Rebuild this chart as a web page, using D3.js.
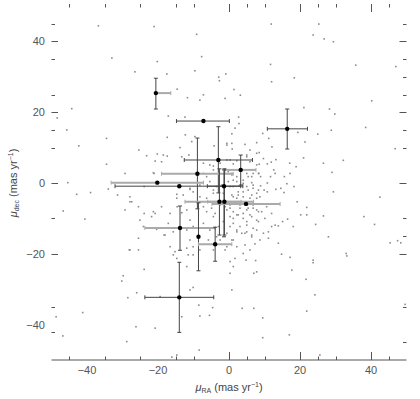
<!DOCTYPE html>
<html><head><meta charset="utf-8">
<script src="https://cdn.jsdelivr.net/npm/d3@7"></script>
<style>body{margin:0;background:#fff}svg{display:block}</style>
</head><body>
<script>
// ---- data ----
const xTickLabels = [-40, -20, 0, 20, 40];
const yTickLabels = [40, 20, 0, -20, -40];
const xMajorTicks = [0, 20, 40];
const xMinorTicks = [-45, -35, -25, -15, -10, 5, 10, 25, 30, 45];
const yLeftMajor = [40, 20, 0, -20];
const yLeftMinor = [45, 35, 25, 15, 10, -10, -35, -42];
const yRightMajor = [40, 20, 0, -20];
const yRightMinor = [45, 35, 30, 25, 15, 10, -10, -15, -35, -45];

// field stars proper motions (mas/yr)
const fieldX = [-36.8,-21.1,-9.1,-33.0,-7.7,-20.2,-26.5,-17.5,-9.6,-14.6,-7.2,-11.7,-8.2,-44.3,-48.4,-17.1,-12.4,-45.7,-34.5,-17.4,-12.3,-10.5,-9.6,-42.3,-13.8,-25.4,-23.2,-20.2,-17.4,-13.3,-11.3,-20.8,-19.0,-34.5,-29.3,-21.1,-7.2,-45.4,-42.9,-39.0,-34.0,-31.4,-27.9,-23.9,-14.7,-11.0,
11.9,25.3,23.7,26.8,29.4,11.7,35.7,47.0,-0.9,-2.9,-2.7,12.0,18.4,1.4,3.2,-1.1,40.2,21.1,28.3,29.8,2.7,2.8,1.7,38.5,19.4,9.5,0.8,25.0,28.8,11.2,-0.6,-4.2,4.5,5.9,7.8,12.1,21.4,46.8,0.9,8.5,5.0,9.7,13.2,11.9,21.0,26.6,32.2,17.1,18.9,8.5,10.8,12.6,13.0,6.8,8.4,8.9,15.6,17.2,29.0,11.7,10.8,16.3,18.3,14.6,8.9,9.9,10.8,13.2,15.5,29.4,42.5,
19.2,21.9,20.2,21.9,26.6,38.0,16.5,15.1,24.4,41.0,13.9,18.1,28.0,45.4,47.5,48.4,13.9,7.3,23.7,23.7,33.0,33.2,14.8,17.2,7.5,4.8,17.7,7.0,21.7,24.2,0.8,-4.6,3.7,7.0,21.9,49.6,9.5,9.5,17.0,25.6,
-4.9,-3.9,-0.6,1.2,2.6,4.0,5.4,6.4,7.8,9.2,0.3,2.2,3.6,5.0,6.4,7.8,9.7,11.1,12.0,13.0,0.8,2.2,4.5,5.9,0.3,1.2,0.3,7.8,
-46.7,-40.6,-29.3,-27.4,-25.5,-23.9,-20.8,-19.0,-16.6,-14.6,-13.3,-17.1,-20.4,-25.5,-18.3,-15.7,-11.9,-28.1,-25.5,-15.2,-11.5,-10.1,-23.9,-11.9,-29.8,-30.2,-26.0,-28.5,-11.0,-10.1,-19.4,-48.7,-41.2,-13.3,-8.2,-5.5,-8.5,-26.2,-20.8,-28.8,-46.8,-8.4,-16.1,-14.7,
-21.3,-18.5,-0.6,0.8,5.0,7.8,0.3,1.2,2.2,5.9,7.8,-5.4,-7.2,-6.3,-4.4,-0.2,0.8,2.2,5.0,6.4,8.3,-11.0,-10.1,-8.2,-5.4,-4.4,-0.2,1.2,2.6,4.0,5.4,6.8,8.3,0.8,2.2,4.0,6.4,7.8,-8.2,-6.3,-12.9,-14.7,-27.9,-21.3,-11.9,-7.2,-6.3,-4.4,0.3,1.2,3.1,5.0,6.8,8.3,0.3,2.2,4.0,5.9,7.8,1.2,3.1,5.0,6.8,2.2,4.5,6.4,1.2,-25.1,-24.1,-21.8,-18.0,-11.0,-10.1,-7.2,-5.4,-5.8,-3.5,-11.0,-11.9,-8.2,-4.4,-0.6,-27.9,-16.6,-15.7,-14.7,-10.1,
-4.4,-2.5,-0.6,0.3,-1.1,0.8,1.2,2.2,4.0,5.4,6.4,5.0,6.8,4.0,2.6,1.2,7.8,8.7,5.9,0.3,-2.1,-3.5,-4.4,-1.6,
-2.5,-1.1,0.3,3.1,6.8,10.6,12.0,10.1,8.3,5.0,-1.6,-3.0,-0.6,8.7,11.1,-2.5,4.0,1.7,-1.1];
const fieldY = [44.4,44.2,42.0,35.3,35.7,34.3,31.4,30.8,31.7,26.5,24.9,24.1,23.4,21.0,18.4,18.9,18.6,15.0,12.6,12.9,13.6,11.7,13.1,10.5,10.0,9.3,7.7,8.2,7.6,7.4,7.9,6.2,6.0,5.3,2.7,2.7,5.6,0.1,-3.2,-2.7,-1.7,-3.4,-3.9,-1.0,-3.2,-1.8,
44.9,44.9,41.8,40.7,39.9,33.5,33.3,32.9,30.8,29.9,28.9,28.6,29.7,26.4,24.8,23.9,23.2,21.3,20.9,19.5,18.6,16.8,15.5,15.7,14.3,14.0,13.9,13.8,14.9,12.6,11.2,10.5,10.9,9.3,11.4,10.2,11.6,9.7,9.6,8.6,7.4,6.9,6.6,5.9,7.1,5.6,6.4,5.6,4.6,5.3,5.4,3.7,2.7,2.7,2.7,1.8,1.8,2.7,3.0,1.8,0.0,-0.2,-1.0,-1.5,-0.8,-2.0,-2.5,-1.8,-2.7,-2.5,-4.0,
-5.3,-6.9,-9.0,-9.0,-9.3,-9.5,-10.2,-10.9,-11.7,-11.7,-12.1,-12.3,-15.2,-16.9,-16.3,-16.9,-17.0,-17.2,-21.8,-22.5,-19.9,-20.6,-20.1,-21.0,-21.9,-21.8,-24.6,-25.5,-27.2,-31.6,-30.2,-35.2,-35.4,-35.4,-36.2,-34.3,-38.1,-43.7,-42.9,-48.6,
-7.1,-8.6,-7.6,-10.0,-9.0,-8.6,-7.1,-9.5,-7.6,-8.1,-12.3,-13.3,-14.2,-13.8,-14.7,-13.3,-14.2,-13.8,-12.3,-11.9,-16.1,-18.0,-17.5,-18.9,-22.2,-23.6,-25.5,-25.1,
-7.9,-10.2,-7.6,-5.3,-6.7,-8.6,-8.6,-6.7,-8.6,-6.7,-8.4,-11.4,-13.1,-15.6,-14.7,-13.8,-13.3,-18.9,-18.9,-19.4,-20.3,-18.0,-24.4,-23.6,-26.2,-27.7,-31.0,-32.4,-30.2,-29.5,-32.1,-37.8,-36.6,-37.8,-37.6,-37.4,-34.5,-40.6,-41.0,-44.8,-43.2,-47.2,-49.2,-48.6,
2.9,7.9,10.7,11.2,7.9,8.4,6.5,5.4,6.3,6.0,5.1,5.1,2.7,1.8,3.7,3.2,2.3,1.8,2.7,1.8,2.7,-1.5,-2.5,-0.6,0.4,-2.0,0.4,-1.0,-2.5,-0.1,-2.0,-0.6,-2.0,-3.4,-4.3,-3.9,-3.4,-4.3,-3.9,-4.3,-3.4,-4.3,-5.3,-8.1,-7.6,-6.7,-8.1,-9.5,-7.1,-8.1,-7.1,-7.6,-7.1,-8.1,-9.5,-9.0,-10.0,-9.0,-10.5,-11.4,-12.3,-11.9,-12.8,-13.8,-14.2,-15.2,-16.1,-10.5,-12.3,-9.5,-14.7,-10.5,-12.3,-11.4,-13.3,-16.1,-15.2,-16.1,-18.4,-18.9,-18.9,-18.0,-18.9,-18.0,-20.3,-21.3,-20.3,
4.8,5.6,6.5,3.7,2.7,2.7,0.8,0.4,0.8,1.8,0.1,-1.0,-1.5,-2.5,-3.4,-3.9,-2.9,-3.9,-4.3,-1.0,-0.6,-1.0,-2.9,-2.9,
-6.2,-6.7,-6.2,-6.2,-6.2,-6.7,-8.6,-10.0,-10.9,-10.9,-10.9,-12.3,-14.2,-16.1,-15.6,-16.1,-19.9,-21.3,-18.9];

// cluster candidates with errors
const candX    = [-20.6, -7.2, 16.4, -3.0, 3.3, -8.9, -20.2, -14.0, -1.4, -2.7, -1.3, 4.8, -13.8, -8.6, -3.9, -14.0];
const candY    = [25.4, 17.5, 15.3, 6.5, 3.7, 2.6, 0.1, -0.9, -0.9, -5.3, -5.3, -5.9, -12.7, -15.2, -17.3, -32.3];
const candXlo  = [-20.6, -14.8, 10.8, -12.6, -1.1, -19.0, -33.2, -32.1, -6.1, -12.4, -6.0, -4.8, -23.7, -8.6, -8.6, -23.7];
const candXhi  = [-16.4, 0.1, 22.1, 6.6, 7.6, 1.2, -7.2, 3.9, 3.3, 6.9, 3.4, 14.4, -3.9, -8.6, 0.8, -4.3];
const candYlo  = [20.9, 17.5, 9.6, -2.8, -0.6, -7.3, 0.1, -0.9, -15.2, -14.7, -14.7, -5.9, -19.0, -24.8, -22.1, -42.2];
const candYhi  = [29.6, 17.5, 20.9, 15.9, 7.9, 12.7, 0.1, -0.9, 3.7, 4.0, 4.0, -5.9, -6.5, -5.6, -12.5, -22.4];
const candXerrGrey = [1, 0, 0, 0, 1, 1, 1, 0, 0, 1, 1, 1, 1, 0, 1, 0];

// ---- drawing ----
const W = 420, H = 399;
const L = 51.5, R = 406.5, T = 6, B = 360;
const svg = d3.select("body").append("svg").attr("width", W).attr("height", H);
const x = d3.scaleLinear().domain([-50, 50]).range([L, R]);
const y = d3.scaleLinear().domain([-50, 50]).range([B, T]);
const tickCol = "#555";

svg.append("line").attr("x1", L).attr("x2", R).attr("y1", B).attr("y2", B)
  .attr("stroke", tickCol).attr("stroke-width", 1);

function vt(vals, y0, len) {
  svg.append("g").selectAll("line").data(vals).join("line")
    .attr("x1", d => Math.round(x(d)) + 0.5).attr("x2", d => Math.round(x(d)) + 0.5)
    .attr("y1", y0).attr("y2", y0 + len).attr("stroke", tickCol).attr("stroke-width", 1);
}
function ht(vals, x0, len) {
  svg.append("g").selectAll("line").data(vals).join("line")
    .attr("y1", d => Math.round(y(d)) + 0.5).attr("y2", d => Math.round(y(d)) + 0.5)
    .attr("x1", x0).attr("x2", x0 + len).attr("stroke", tickCol).attr("stroke-width", 1);
}
vt(xMajorTicks, B, -8); vt(xMinorTicks, B, -3.5);
vt(xMajorTicks, T - 2, 8); vt(xMinorTicks, T - 2, 3.5);
ht(yLeftMajor, L, 6.5); ht(yLeftMinor, L, 3.5);
ht(yRightMajor, R, -7); ht(yRightMinor, R, -3.5);

const font = "'Liberation Sans', Arial, sans-serif";
svg.append("g").selectAll("text").data(xTickLabels).join("text")
  .attr("x", d => x(d)).attr("y", 374).attr("text-anchor", "middle")
  .attr("font-family", font).attr("font-size", 11).attr("fill", "#555")
  .text(d => d < 0 ? "\u2212" + Math.abs(d) : d);
svg.append("g").selectAll("text").data(yTickLabels).join("text")
  .attr("x", 45).attr("y", d => y(d) + 4).attr("text-anchor", "end")
  .attr("font-family", font).attr("font-size", 11).attr("fill", "#555")
  .text(d => d < 0 ? "\u2212" + Math.abs(d) : d);

const xt = svg.append("text").attr("x", 229).attr("y", 391).attr("text-anchor", "middle")
  .attr("font-family", font).attr("font-size", 11).attr("fill", "#444");
xt.append("tspan").attr("font-style", "italic").text("\u03bc");
xt.append("tspan").attr("font-size", 7).attr("dy", 2).text("RA");
xt.append("tspan").attr("dy", -2).text(" (mas yr");
xt.append("tspan").attr("font-size", 7).attr("dy", -4).text("\u22121");
xt.append("tspan").attr("dy", 4).text(")");

const yt = svg.append("text").attr("transform", "translate(17,183) rotate(-90)")
  .attr("text-anchor", "middle")
  .attr("font-family", font).attr("font-size", 11).attr("fill", "#444");
yt.append("tspan").attr("font-style", "italic").text("\u03bc");
yt.append("tspan").attr("font-size", 7).attr("dy", 2).text("dec");
yt.append("tspan").attr("dy", -2).text(" (mas yr");
yt.append("tspan").attr("font-size", 7).attr("dy", -4).text("\u22121");
yt.append("tspan").attr("dy", 4).text(")");

// field stars
svg.append("g").selectAll("rect").data(fieldX.map((v, i) => [v, fieldY[i]])).join("rect")
  .attr("x", d => x(d[0]) - 0.8).attr("y", d => y(d[1]) - 0.8)
  .attr("width", 1.6).attr("height", 1.6).attr("fill", "#8c8c8c");

// candidates: error bars
const cand = candX.map((v, i) => ({x: v, y: candY[i], xl: candXlo[i], xh: candXhi[i], yl: candYlo[i], yh: candYhi[i], g: candXerrGrey[i]}));
const eb = svg.append("g");
cand.forEach(c => {
  const xs = c.g ? "#aaa" : "#444", xw = c.g ? 2 : 1;
  if (c.xh - c.xl > 0.01) {
    eb.append("line").attr("x1", x(c.xl)).attr("x2", x(c.xh)).attr("y1", y(c.y)).attr("y2", y(c.y))
      .attr("stroke", xs).attr("stroke-width", xw);
    [c.xl, c.xh].forEach(e => { if (Math.abs(e - c.x) > 0.01)
      eb.append("line").attr("x1", x(e)).attr("x2", x(e)).attr("y1", y(c.y) - 2).attr("y2", y(c.y) + 2)
        .attr("stroke", xs).attr("stroke-width", 1); });
  }
  if (c.yh - c.yl > 0.01) {
    eb.append("line").attr("x1", x(c.x)).attr("x2", x(c.x)).attr("y1", y(c.yl)).attr("y2", y(c.yh))
      .attr("stroke", "#444").attr("stroke-width", 1);
    [c.yl, c.yh].forEach(e => { if (Math.abs(e - c.y) > 0.01)
      eb.append("line").attr("y1", y(e)).attr("y2", y(e)).attr("x1", x(c.x) - 2).attr("x2", x(c.x) + 2)
        .attr("stroke", "#444").attr("stroke-width", 1); });
  }
});
svg.append("g").selectAll("circle").data(cand).join("circle")
  .attr("cx", d => x(d.x)).attr("cy", d => y(d.y)).attr("r", 2.2).attr("fill", "#000");
</script>
</body></html>
